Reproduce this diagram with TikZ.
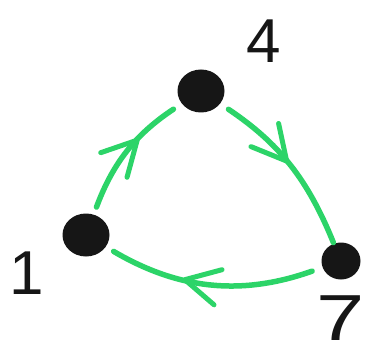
\documentclass[tikz,border=0pt]{standalone}
\usepackage{fontspec}
\setmainfont{Liberation Sans}
\usetikzlibrary{decorations.markings,shapes.geometric}
\definecolor{pen}{RGB}{44,212,104}
\definecolor{ink}{RGB}{22,22,22}
\tikzset{
  dot/.style={ellipse,fill=ink,draw=none,minimum width=47pt,minimum height=43pt,inner sep=0pt},
  lbl/.style={text=ink,font=\fontsize{62}{62}\selectfont,inner sep=0pt},
  chev/.style={draw=pen,line width=5pt,line cap=round,line join=round},
  edge/.style={draw=pen,line width=5.5pt,line cap=round},
  midarrow/.style={decorate,decoration={markings,mark=at position #1 with {\draw[chev] (-34pt,-18pt) -- (0pt,0pt) -- (-34pt,18pt);}}},
}
\begin{document}
\begin{tikzpicture}[x=1pt,y=-1pt]
\path[use as bounding box,fill=white] (0,0) rectangle (370,353);
\node[dot] (n4) at (201,91) {};
\node[dot] (n1) at (86,235) {};
\node[dot,minimum width=39pt,minimum height=37pt] (n7) at (341,261) {};
\node[lbl] (l4) at (264,41) {4};
\node[lbl] (l1) at (27,273) {1};
\node[lbl] (l7) at (341,318) {\scalebox{1.4}[1.05]{7}};
\draw[edge,shorten <=8pt,shorten >=10pt] (n1) to[bend left=18] (n4);
\draw[edge,shorten <=10pt,shorten >=1pt] (n4) to[bend left=17] (n7);
\draw[edge,shorten <=11pt,shorten >=9pt] (n7) to[bend left=25] (n1);
\path[midarrow=0.6] (n1) to[bend left=18] (n4);
\path[midarrow=0.48] (n4) to[bend left=17] (n7);
\path[midarrow=0.62] (n7) to[bend left=25] (n1);
\end{tikzpicture}
\end{document}
